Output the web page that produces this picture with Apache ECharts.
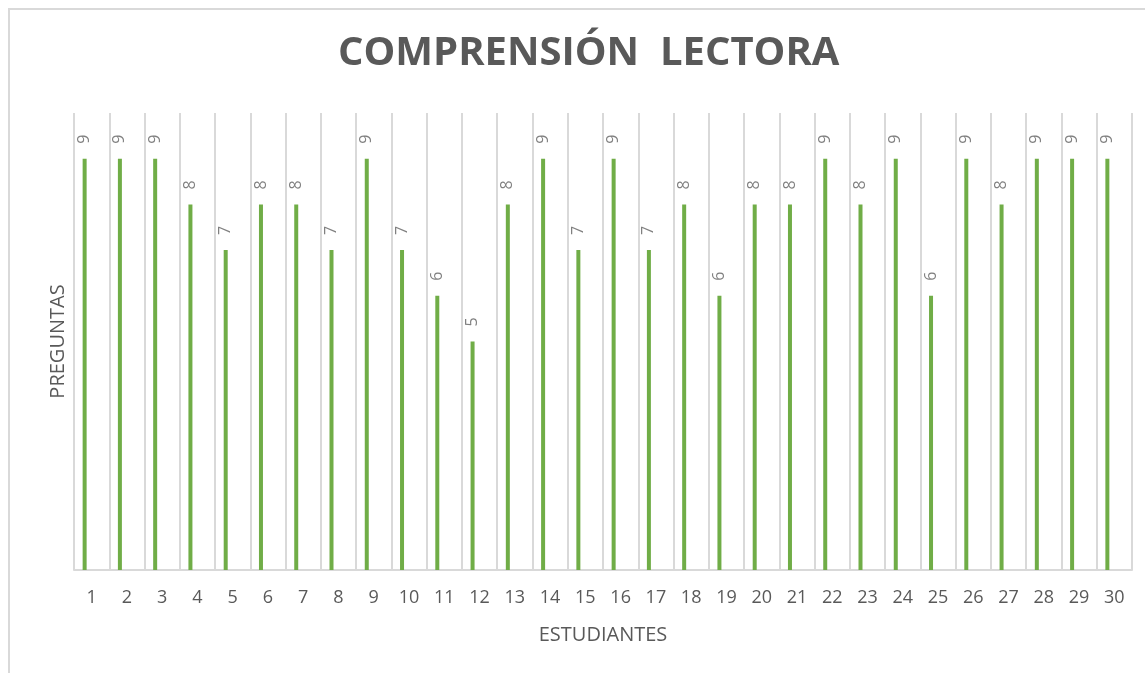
<!DOCTYPE html>
<html>
<head>
<meta charset="utf-8">
<script src="https://cdn.jsdelivr.net/npm/echarts@6/dist/echarts.min.js"></script>
<style>
  html, body { margin: 0; padding: 0; background: #fff; }
  #frame { position: absolute; left: 8px; top: 8px; width: 1137px; height: 665px;
           border-top: 2px solid #d9d9d9; border-left: 2px solid #d9d9d9; box-sizing: border-box; }
  #chart { position: absolute; left: 0; top: 0; width: 1145px; height: 673px; }
</style>
</head>
<body>
<div id="frame"></div>
<div id="chart"></div>
<script>
// estudiantes 1..30
const estudiantes = ['1', '2', '3', '4', '5', '6', '7', '8', '9', '10',
  '11', '12', '13', '14', '15', '16', '17', '18', '19', '20',
  '21', '22', '23', '24', '25', '26', '27', '28', '29', '30'];
// preguntas correctas
const preguntas = [9, 9, 9, 8, 7, 8, 8, 7, 9, 7,
  6, 5, 8, 9, 7, 9, 7, 8, 6, 8,
  8, 9, 8, 9, 6, 9, 8, 9, 9, 9];
// serie vacía (Excel deja el hueco de la segunda columna)
const vacia = estudiantes.map(() => null);

const myChart = echarts.init(document.getElementById('chart'));
myChart.setOption({
  animation: false,
  title: {
    text: 'COMPRENSIÓN  LECTORA',
    left: 333,
    top: 29,
    textStyle: {
      fontFamily: 'Open Sans',
      fontWeight: 'bold',
      fontSize: 40,
      color: '#595959',
    },
  },
  grid: { left: 74, right: 13, top: 113, bottom: 103 },
  xAxis: {
    type: 'category',
    data: estudiantes,
    name: 'ESTUDIANTES',
    nameLocation: 'middle',
    nameGap: 55,
    nameTextStyle: { fontFamily: 'Open Sans', fontSize: 20, color: '#595959' },
    axisTick: { show: false },
    axisLine: { lineStyle: { color: '#d9d9d9', width: 2 } },
    axisLabel: { fontFamily: 'Open Sans', fontSize: 18, color: '#595959', margin: 19 },
    splitLine: { show: true, lineStyle: { color: '#d9d9d9', width: 2 } },
  },
  yAxis: {
    type: 'value',
    min: 0,
    max: 10,
    name: 'PREGUNTAS',
    nameLocation: 'middle',
    nameGap: 6,
    nameTextStyle: { fontFamily: 'Open Sans', fontSize: 20, color: '#595959' },
    axisLine: { show: false },
    axisTick: { show: false },
    axisLabel: { show: false },
    splitLine: { show: false },
  },
  series: [
    {
      type: 'bar',
      data: preguntas,
      barWidth: 4,
      barGap: '250%',
      itemStyle: { color: '#70ad47' },
      label: {
        show: true,
        position: 'top',
        distance: 15,
        rotate: 90,
        align: 'left',
        verticalAlign: 'middle',
        fontFamily: 'Open Sans',
        fontSize: 16,
        color: '#808080',
      },
    },
    {
      type: 'bar',
      data: vacia,
      barWidth: 4,
      itemStyle: { color: '#70ad47' },
    },
  ],
});
</script>
</body>
</html>
